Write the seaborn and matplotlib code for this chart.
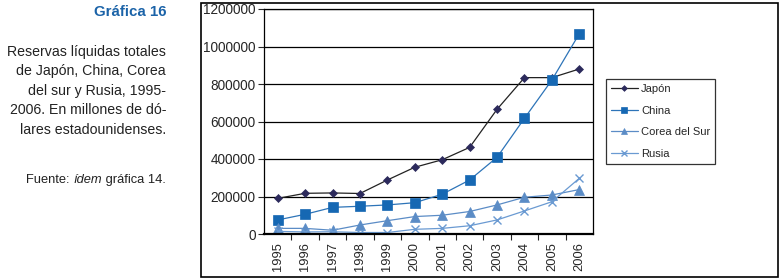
import numpy as np
import pandas as pd
import seaborn as sns
import matplotlib.pyplot as plt
from matplotlib.patches import Rectangle
from matplotlib.ticker import MultipleLocator

# datos (millones de dólares)
years = [1995, 1996, 1997, 1998, 1999, 2000, 2001, 2002, 2003, 2004, 2005, 2006]
japon = [190000, 217000, 219000, 216000, 288000, 356000, 396000, 462000, 665000, 834000, 834000, 880000]
china = [75000, 105000, 142000, 148000, 155000, 167000, 212000, 288000, 409000, 617000, 821000, 1068000]
corea = [30000, 30000, 20000, 48000, 71000, 93000, 100000, 120000, 155000, 196000, 208000, 237000]
rusia = [14000, 11000, 12000, 8000, 8000, 25000, 30000, 44000, 75000, 123000, 172000, 297000]

series_names = ["Japón", "China", "Corea del Sur", "Rusia"]
series_vals = [japon, china, corea, rusia]
line_colors = ["#222222", "#2d74b8", "#5b8cc6", "#6a9ad2"]
marker_colors = ["#2c2a5c", "#1668b3", "#5b8cc6", "#6a9ad2"]
markers = ["D", "s", "^", "x"]
marker_sizes = [4.5, 7, 6.5, 6]

sns.set_style("white")
plt.rcParams['font.family'] = ['Liberation Sans', 'DejaVu Sans']

fig = plt.figure(figsize=(7.8, 2.8), dpi=100)

# texto de la izquierda
txt_color = "#222222"
x_right = 166 / 780
fig.text(x_right, 1 - 12 / 280, "Gráfica 16", ha="right", va="center",
         fontsize=10.8, fontweight="bold", color="#1b63a8")
lines = ["Reservas líquidas totales", "de Japón, China, Corea",
         "del sur y Rusia, 1995-", "2006. En millones de dó-",
         "lares estadounidenses."]
for i, t in enumerate(lines):
    fig.text(x_right, 1 - (52 + 19.4 * i) / 280, t, ha="right", va="center",
             fontsize=10.2, color=txt_color)

# marco de la gráfica
fig.patches.append(Rectangle((201 / 780, 3 / 280), 577 / 780, 274 / 280,
                             transform=fig.transFigure, fill=False,
                             edgecolor="black", linewidth=1.2))

ax = fig.add_axes([264 / 780, 1 - 234 / 280, (593 - 264) / 780, (234 - 9) / 280])

# "Fuente: ídem gráfica 14." con ídem en cursiva
t3 = fig.text(x_right, 1 - 180 / 280, " gráfica 14.", ha="right", va="center",
              fontsize=9.3, color=txt_color)
t2 = ax.annotate("ídem", xy=(0, 0.5), xycoords=t3, ha="right", va="center",
                 fontsize=9.3, style="italic", color=txt_color,
                 annotation_clip=False)
ax.annotate("Fuente: ", xy=(0, 0.5), xycoords=t2, ha="right", va="center",
            fontsize=9.3, color=txt_color, annotation_clip=False)

for name, vals, lc, mc, mk, ms in zip(series_names, series_vals, line_colors,
                                       marker_colors, markers, marker_sizes):
    df = pd.DataFrame({"year": years, "value": vals})
    sns.lineplot(data=df, x="year", y="value", ax=ax, color=lc, linewidth=0.9,
                 marker=mk, markersize=ms, markerfacecolor=mc,
                 markeredgecolor=mc, markeredgewidth=1.0 if mk == "x" else 0.5,
                 label=name)

ax.set_xlim(years[0] - 0.5, years[-1] + 0.5)
ax.set_ylim(0, 1200000)
ax.yaxis.set_major_locator(MultipleLocator(200000))
ax.set_yticklabels([f"{int(v)}" for v in ax.get_yticks()])
ax.grid(axis="y", color="black", linewidth=0.9)
ax.set_axisbelow(True)
ax.set_xticks(years)
ax.set_xticklabels([str(y) for y in years], rotation=90, fontsize=9.3)
ax.set_xticks(np.array(years[:-1]) + 0.5, minor=True)
ax.tick_params(axis="x", which="major", length=0, pad=6)
ax.tick_params(axis="x", which="minor", length=4, direction="out", width=0.8)
ax.tick_params(axis="y", length=4, direction="out", width=0.8, labelsize=9.8, pad=2)
ax.tick_params(left=True, bottom=True, which="both")
for s in ax.spines.values():
    s.set_color("black")
    s.set_linewidth(0.9)
ax.spines["bottom"].set_linewidth(1.6)
ax.set_xlabel("")
ax.set_ylabel("")

leg = ax.legend(loc="upper left", bbox_to_anchor=(606 / 780, 1 - 79 / 280),
                bbox_transform=fig.transFigure, frameon=True, fancybox=False,
                fontsize=8, handlelength=2.4, labelspacing=1.05, markerscale=0.65,
                borderpad=0.45, handletextpad=0.3, borderaxespad=0)
leg.get_frame().set_edgecolor("black")
leg.get_frame().set_linewidth(0.9)

fig.savefig("out.png", dpi=100)
